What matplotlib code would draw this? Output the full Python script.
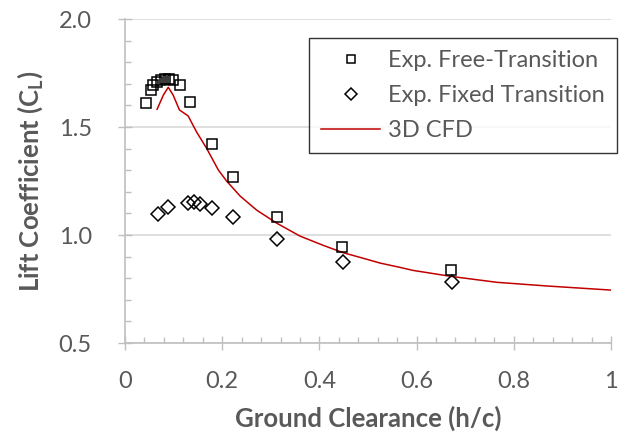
"""Lift coefficient vs ground clearance: experiments and 3D CFD."""
import matplotlib

matplotlib.use("Agg")
import matplotlib.pyplot as plt
from matplotlib.ticker import MultipleLocator, FormatStrFormatter, FuncFormatter

# --- data ---
free_h = [0.043, 0.053, 0.058, 0.066, 0.074, 0.082, 0.090, 0.099, 0.113,
          0.134, 0.178, 0.223, 0.312, 0.447, 0.671]
free_cl = [1.612, 1.671, 1.694, 1.710, 1.718, 1.720, 1.720, 1.718, 1.694,
           1.614, 1.421, 1.270, 1.082, 0.943, 0.838]

fixed_h = [0.067, 0.089, 0.130, 0.141, 0.154, 0.178, 0.223, 0.312, 0.448, 0.672]
fixed_cl = [1.097, 1.131, 1.150, 1.151, 1.142, 1.126, 1.082, 0.980, 0.876, 0.784]

cfd_h = [0.066, 0.079, 0.089, 0.099, 0.112, 0.130, 0.147, 0.168, 0.192,
         0.209, 0.237, 0.271, 0.312, 0.360, 0.408, 0.449, 0.497, 0.525,
         0.566, 0.593, 0.672, 0.765, 0.868, 1.000]
cfd_cl = [1.582, 1.648, 1.684, 1.648, 1.579, 1.551, 1.478, 1.401, 1.301,
          1.250, 1.180, 1.115, 1.055, 0.995, 0.952, 0.918, 0.888, 0.870,
          0.850, 0.836, 0.808, 0.781, 0.764, 0.745]

INK = "#595959"
AXIS = "#bfbfbf"
GRID = "#d9d9d9"
RED = "#c00000"

plt.rcParams["font.family"] = ["Lato", "DejaVu Sans"]
plt.rcParams["mathtext.fontset"] = "custom"
plt.rcParams["mathtext.rm"] = "Lato"
plt.rcParams["mathtext.bf"] = "Lato:bold"

fig = plt.figure(figsize=(6.28, 4.37), dpi=100)
ax = fig.add_axes([125 / 628, 1 - 343 / 437, 486 / 628, 324 / 437])

ax.plot(free_h, free_cl, ls="none", marker="s", ms=7.6, mfc="none",
        mec="black", mew=1.1, label="Exp. Free-Transition", zorder=3)
ax.plot(fixed_h, fixed_cl, ls="none", marker="D", ms=7.6, mfc="none",
        mec="black", mew=1.1, label="Exp. Fixed Transition", zorder=3)
ax.plot(cfd_h, cfd_cl, color=RED, lw=1.1, label="3D CFD", zorder=2)

ax.set_xlim(0, 1)
ax.set_ylim(0.5, 2.0)
ax.xaxis.set_major_locator(MultipleLocator(0.2))
ax.xaxis.set_minor_locator(MultipleLocator(0.04))
ax.yaxis.set_major_locator(MultipleLocator(0.5))
ax.yaxis.set_minor_locator(MultipleLocator(0.1))
ax.xaxis.set_major_formatter(FuncFormatter(lambda v, p: f"{v:g}"))
ax.yaxis.set_major_formatter(FormatStrFormatter("%.1f"))

ax.grid(axis="y", which="major", color=GRID, lw=1.2, zorder=0)
ax.set_axisbelow(True)
for s in ("top", "right"):
    ax.spines[s].set_visible(False)
for s in ("left", "bottom"):
    ax.spines[s].set_color(AXIS)
    ax.spines[s].set_linewidth(1.2)

ax.tick_params(which="major", direction="inout", length=10, width=1.0,
               color=AXIS, labelcolor=INK, labelsize=17)
ax.tick_params(axis="y", which="major", pad=19)
ax.tick_params(axis="x", which="major", pad=15)
ax.tick_params(which="minor", direction="in", length=4, width=1.0, color=AXIS)

ax.set_xlabel("Ground Clearance (h/c)", fontsize=18.5, fontweight="bold",
              color=INK, labelpad=10)
ax.set_ylabel(r"Lift Coefficient (C$_\mathbf{L}$)", fontsize=18.5,
              fontweight="bold", color=INK, labelpad=10)

leg = ax.legend(loc="upper right", bbox_to_anchor=(617 / 628, 1 - 38 / 437),
                bbox_transform=fig.transFigure, borderaxespad=0, fontsize=17,
                frameon=True, fancybox=False, edgecolor="black",
                handlelength=2.5, markerscale=0.75, labelspacing=0.6,
                borderpad=0.5, handletextpad=0.35)
for t in leg.get_texts():
    t.set_color(INK)
leg.get_frame().set_linewidth(1.0)

fig.savefig("out.png", dpi=100, facecolor="white")
